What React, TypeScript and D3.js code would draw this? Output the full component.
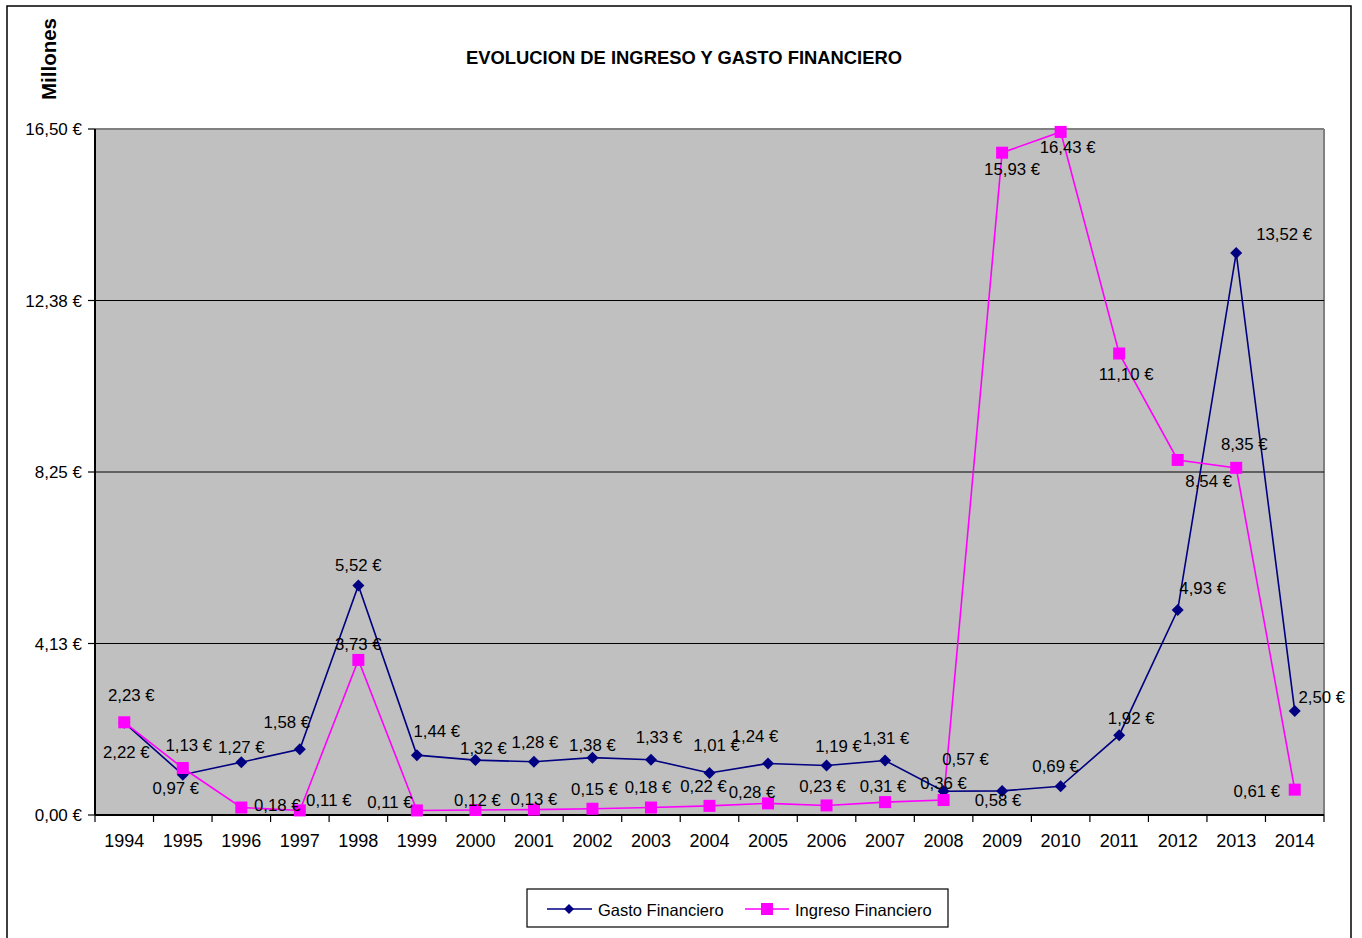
import React from "react";
import * as d3 from "d3";

const years = ["1994","1995","1996","1997","1998","1999","2000","2001","2002","2003","2004","2005","2006","2007","2008","2009","2010","2011","2012","2013","2014"];
const gasto = [2.22,0.97,1.27,1.58,5.52,1.44,1.32,1.28,1.38,1.33,1.01,1.24,1.19,1.31,0.57,0.58,0.69,1.92,4.93,13.52,2.50];
const ingreso = [2.23,1.13,0.18,0.11,3.73,0.11,0.12,0.13,0.15,0.18,0.22,0.28,0.23,0.31,0.36,15.93,16.43,11.10,8.54,8.35,0.61];
const yTicks = [0, 4.125, 8.25, 12.375, 16.5];
const seriesNames = ["Gasto Financiero", "Ingreso Financiero"];

// label placement (layout only)
const gastoDx = [2,-7,0,-13,0,20,8,1,0,8,7,-13,12,1,22,-4,-5,12,25,48,27];
const gastoDy = [35,19,-9,-21,-15,-18,-6,-14,-7,-17,-22,-21,-14,-17,-26,15,-14,-11,-16,-13,-8];
const ingresoDx = [7,6,36,29,0,-27,2,0,2,-3,-6,-16,-4,-2,0,10,7,7,31,8,-38];
const ingresoDy = [-21,-17,3,-4,-10,-2,-4,-5,-14,-15,-14,-5,-13,-10,-11,22,21,26,27,-18,7];

const W = 1362, H = 938;
const L = 95, R = 1324, T = 129, B = 815;
const FONT = "'Liberation Sans', Arial, sans-serif";
const GC = "#000080", IC = "#FF00FF";

const fmt = (v: number) => v.toFixed(2).replace(".", ",") + " €";

export default function App() {
  const x = d3.scaleBand<string>().domain(years).range([L, R]).padding(0);
  const y = d3.scaleLinear().domain([0, 16.5]).range([B, T]);
  const cx = (yr: string) => (x(yr) as number) + x.bandwidth() / 2;
  const line = d3.line<number>().x((_, i) => cx(years[i])).y((v) => y(v));
  const diamond = (px: number, py: number, s = 6) =>
    `M${px},${py - s}L${px + s},${py}L${px},${py + s}L${px - s},${py}Z`;

  return (
    <svg width={W} height={H} style={{ position: "absolute", left: 0, top: 0, background: "#fff" }} fontFamily={FONT}>
      <rect x={7} y={6} width={1344} height={960} fill="#fff" stroke="#000" strokeWidth={1.5} />
      <text x={684} y={64} textAnchor="middle" fontSize={17.5} fontWeight="bold" textLength={436} lengthAdjust="spacingAndGlyphs">EVOLUCION DE INGRESO Y GASTO FINANCIERO</text>
      <text transform="translate(56,59) rotate(-90)" textAnchor="middle" fontSize={20} fontWeight="bold" textLength={82} lengthAdjust="spacingAndGlyphs">Millones</text>

      <rect x={L} y={T} width={R - L} height={B - T} fill="#C0C0C0" />
      <line x1={L} x2={R} y1={T} y2={T} stroke="#808080" strokeWidth={2} />
      <line x1={R} x2={R} y1={T} y2={B} stroke="#808080" strokeWidth={2} />
      {yTicks.slice(1, -1).map((t) => (
        <line key={t} x1={L} x2={R} y1={y(t)} y2={y(t)} stroke="#000" strokeWidth={1.2} />
      ))}
      {yTicks.map((t) => (
        <g key={"yt" + t}>
          <line x1={L - 7} x2={L} y1={y(t)} y2={y(t)} stroke="#000" strokeWidth={1.2} />
          <text x={L - 13} y={y(t) + 6} textAnchor="end" fontSize={17}>{fmt(t)}</text>
        </g>
      ))}
      {years.map((yr) => (
        <g key={"xt" + yr}>
          <line x1={x(yr) as number} x2={x(yr) as number} y1={B} y2={B + 7} stroke="#000" strokeWidth={1.2} />
          <text x={cx(yr)} y={847} textAnchor="middle" fontSize={18}>{yr}</text>
        </g>
      ))}
      <line x1={R} x2={R} y1={B} y2={B + 7} stroke="#000" strokeWidth={1.2} />
      <line x1={L} x2={L} y1={T} y2={B} stroke="#000" strokeWidth={2} />
      <line x1={L} x2={R} y1={B} y2={B} stroke="#000" strokeWidth={2} />

      <path d={line(gasto) as string} fill="none" stroke={GC} strokeWidth={1.6} />
      <path d={line(ingreso) as string} fill="none" stroke={IC} strokeWidth={1.6} />
      {gasto.map((v, i) => (
        <path key={"gm" + i} d={diamond(cx(years[i]), y(v))} fill={GC} />
      ))}
      {ingreso.map((v, i) => (
        <rect key={"im" + i} x={cx(years[i]) - 6} y={y(v) - 6} width={12} height={12} fill={IC} />
      ))}
      {gasto.map((v, i) => (
        <text key={"gl" + i} x={cx(years[i]) + gastoDx[i]} y={y(v) + gastoDy[i]} textAnchor="middle" fontSize={16.8}>{fmt(v)}</text>
      ))}
      {ingreso.map((v, i) => (
        <text key={"il" + i} x={cx(years[i]) + ingresoDx[i]} y={y(v) + ingresoDy[i]} textAnchor="middle" fontSize={16.8}>{fmt(v)}</text>
      ))}

      <rect x={527} y={889} width={421} height={38} fill="#fff" stroke="#000" strokeWidth={1.2} />
      <line x1={547} x2={592} y1={909} y2={909} stroke={GC} strokeWidth={1.6} />
      <path d={diamond(569, 909, 5)} fill={GC} />
      <text x={598} y={915.5} fontSize={16.5}>{seriesNames[0]}</text>
      <line x1={745} x2={789} y1={909} y2={909} stroke={IC} strokeWidth={1.6} />
      <rect x={761} y={903} width={12} height={12} fill={IC} />
      <text x={795} y={915.5} fontSize={16.5}>{seriesNames[1]}</text>
    </svg>
  );
}
